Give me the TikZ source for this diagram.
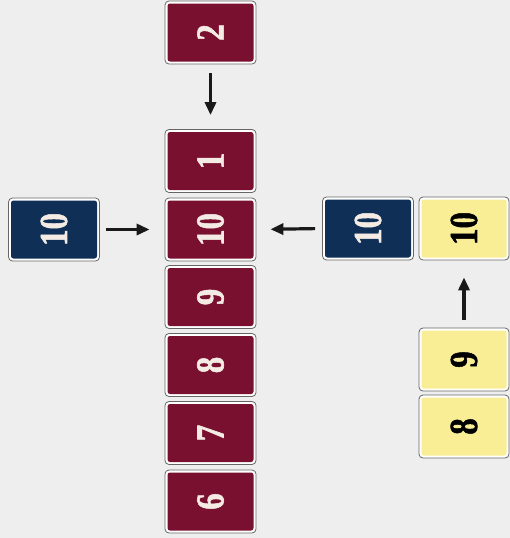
\documentclass[tikz,border=0pt]{standalone}
\usepackage{fontspec}
\usetikzlibrary{arrows.meta}
\newfontfamily\cardfont{Liberation Serif Bold}[FakeBold=1.5]
\definecolor{cardred}{HTML}{7A1030}
\definecolor{cardblue}{HTML}{0F2F56}
\definecolor{cardyellow}{HTML}{F9EE96}
\definecolor{cream}{HTML}{F4ECE4}
\definecolor{bg}{HTML}{EEEEEE}
\newcommand\cardnum[1]{\rotatebox{90}{\scalebox{1}[1.2]{\fontsize{33}{33}\cardfont #1}}}
\tikzset{
  card/.style={draw=black!60, fill=white, line width=0.8pt, rounded corners=4pt,
    minimum width=91pt, minimum height=63pt, inner sep=0pt,
    path picture={\fill[#1, rounded corners=2.5pt]
      ([shift={(2.5pt,2.5pt)}]path picture bounding box.south west) rectangle
      ([shift={(-2.5pt,-2.5pt)}]path picture bounding box.north east);}},
  redcard/.style={card=cardred, text=cream},
  bluecard/.style={card=cardblue, text=cream},
  yellowcard/.style={card=cardyellow, text=black},
  arr/.style={-{Triangle[length=13pt,width=11pt]}, line width=3.2pt, black!90}
}
\begin{document}
\begin{tikzpicture}[x=1pt,y=-1pt]
\fill[bg] (0,0) rectangle (510,538);
\useasboundingbox (0,0) rectangle (510,538);
\node[redcard] (r2) at (210.5,32.5) {\cardnum{2}};
\node[redcard] (r1) at (210.5,161) {\cardnum{1}};
\node[redcard] (r10) at (210.5,229.5) {\cardnum{10}};
\node[redcard] (r9) at (210.5,297) {\cardnum{9}};
\node[redcard] (r8) at (210.5,365) {\cardnum{8}};
\node[redcard] (r7) at (210.5,433) {\cardnum{7}};
\node[redcard] (r6) at (210.5,501.5) {\cardnum{6}};
\node[bluecard] (bl) at (54,229.5) {\cardnum{10}};
\node[bluecard] (br) at (368,228.5) {\cardnum{10}};
\node[yellowcard, minimum width=90pt] (y10) at (464,228.5) {\cardnum{10}};
\node[yellowcard, minimum width=90pt] (y9) at (464,359.5) {\cardnum{9}};
\node[yellowcard, minimum width=90pt] (y8) at (464,426.5) {\cardnum{8}};
\draw[arr, shorten <=9pt, shorten >=14pt] (r2) -- (r1);
\draw[arr, shorten <=6pt, shorten >=15pt] (bl) -- (r10);
\draw[arr, shorten <=7pt, shorten >=14pt] (br.west) -- (r10.east);
\draw[arr, shorten <=8pt, shorten >=17pt] (y9) -- (y10);
\end{tikzpicture}
\end{document}
